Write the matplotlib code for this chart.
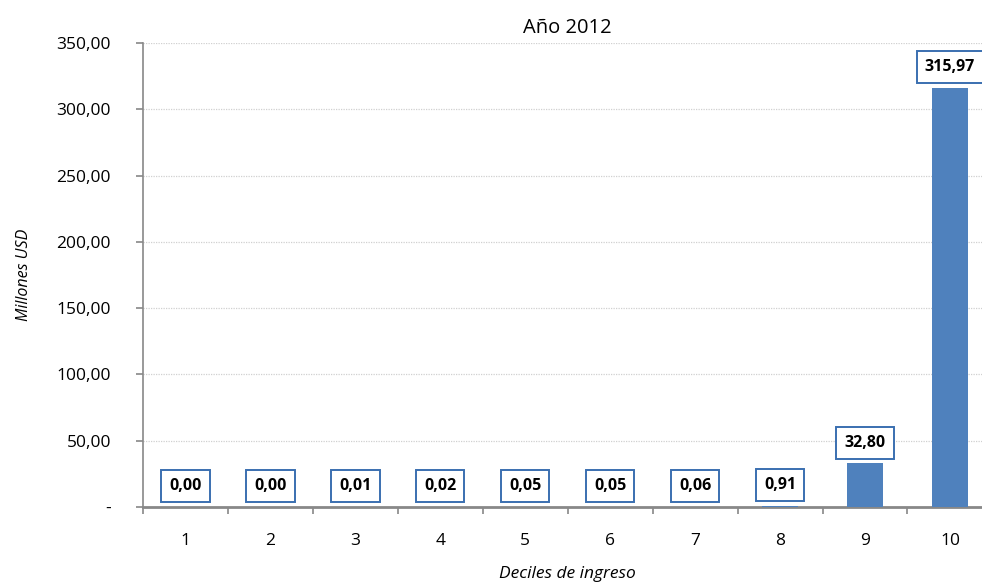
import matplotlib
matplotlib.use("Agg")
import matplotlib.pyplot as plt
from matplotlib.ticker import FixedLocator

plt.rcParams['font.family'] = ['Open Sans', 'DejaVu Sans']

deciles = ["1", "2", "3", "4", "5", "6", "7", "8", "9", "10"]
valores = [0.00, 0.00, 0.01, 0.02, 0.05, 0.05, 0.06, 0.91, 32.80, 315.97]
yticks = [0, 50, 100, 150, 200, 250, 300, 350]
ytick_labels = ["-", "50,00", "100,00", "150,00", "200,00", "250,00", "300,00", "350,00"]

bar_color = "#4f81bd"
edge_blue = "#3a6fb0"

fig = plt.figure(figsize=(9.82, 5.83), dpi=100)
ax = fig.add_axes([0.1456, 0.1304, 0.865, 0.7958])

x = list(range(1, len(deciles) + 1))
ax.bar(x, valores, width=0.43, color=bar_color, zorder=3)

ax.set_xlim(0.5, 10.5)
ax.set_ylim(0, 350)

ax.set_yticks(yticks)
ax.set_yticklabels(ytick_labels, fontsize=12.5)
ax.set_xticks(x)
ax.set_xticklabels(deciles, fontsize=12.5)
ax.tick_params(axis='x', which='major', length=0, pad=19)
ax.xaxis.set_minor_locator(FixedLocator([i + 0.5 for i in range(0, 10)]))
ax.tick_params(axis='x', which='minor', length=5, color="#888888", width=1.2)
ax.tick_params(axis='y', length=5, color="#888888", width=1.2, pad=18)

ax.grid(axis='y', color="#d0d0d0", linestyle=(0, (1, 1)), linewidth=0.9, zorder=0)

for side in ("top", "right"):
    ax.spines[side].set_visible(False)
ax.spines["left"].set_color("#888888")
ax.spines["left"].set_linewidth(1.2)
ax.spines["bottom"].set_color("#888888")
ax.spines["bottom"].set_linewidth(2.0)

for xi, v in zip(x, valores):
    txt = f"{v:.2f}".replace(".", ",")
    ax.annotate(txt, xy=(xi, v), xytext=(0, 15), textcoords="offset points",
                ha="center", va="center", fontsize=11.5, fontweight="bold",
                zorder=5,
                bbox=dict(boxstyle="square,pad=0.5", facecolor="white",
                          edgecolor=edge_blue, linewidth=1.4))

ax.set_title("Año 2012", fontsize=14.5, pad=7)
ax.set_ylabel("Millones USD", fontsize=11.5, style="italic", labelpad=18)
ax.set_xlabel("Deciles de ingreso", fontsize=12.5, style="italic", labelpad=12)

fig.savefig("out.png", dpi=100)
